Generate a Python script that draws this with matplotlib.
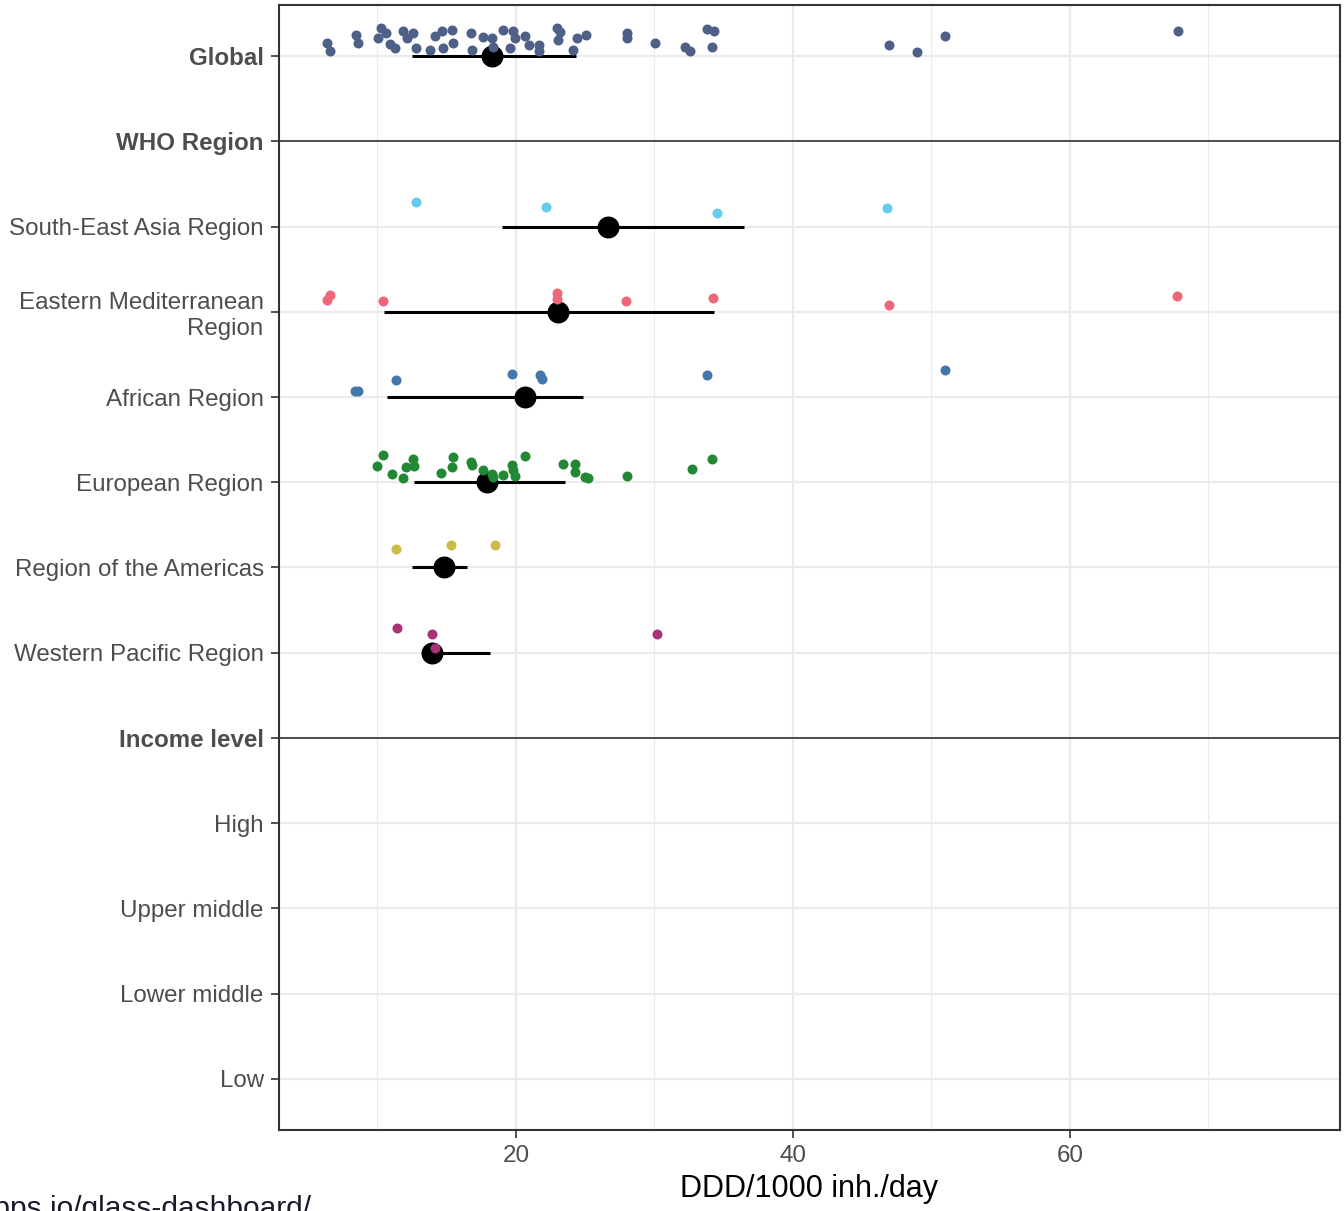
import matplotlib
matplotlib.use('Agg')
import matplotlib.pyplot as plt
import numpy as np

plt.rcParams['font.family'] = ['Liberation Sans', 'DejaVu Sans']

# ── categories (top to bottom) ────────────────────────────────────────────────
categories = ['Global', 'WHO Region', 'South-East Asia Region',
              'Eastern Mediterranean\nRegion', 'African Region', 'European Region',
              'Region of the Americas', 'Western Pacific Region', 'Income level',
              'High', 'Upper middle', 'Lower middle', 'Low']
headers = ['Global', 'WHO Region', 'Income level']
section_lines = ['WHO Region', 'Income level']

# ── per-country values (DDD/1000 inh./day) and vertical jitter
global_vals = [6.33, 6.57, 8.45, 8.61, 10.30, 10.06, 10.6, 10.9, 11.26, 11.86, 12.11, 12.58,
               12.78, 13.79, 14.15, 14.64, 15.36, 14.75, 15.47, 16.73, 16.80, 17.64,
               18.25, 18.36, 19.04, 19.81, 19.57, 19.93, 20.65, 20.96, 21.68, 21.68,
               22.94, 23.18, 23.05, 24.14, 24.38, 25.10, 27.99, 27.99, 30.04, 32.20,
               32.56, 33.79, 34.30, 34.19, 46.93, 48.95, 50.97, 67.80]
global_jit = [0.15, 0.06, 0.25, 0.15, 0.33, 0.21, 0.27, 0.14, 0.09, 0.29, 0.21, 0.27,
              0.09, 0.07, 0.24, 0.30, 0.31, 0.09, 0.15, 0.27, 0.07, 0.23,
              0.21, 0.11, 0.31, 0.29, 0.09, 0.21, 0.24, 0.13, 0.13, 0.06,
              0.33, 0.28, 0.19, 0.07, 0.21, 0.25, 0.27, 0.21, 0.15, 0.11,
              0.06, 0.32, 0.30, 0.11, 0.13, 0.05, 0.24, 0.29]

sea_vals = [12.78, 22.17, 34.51, 46.79]
sea_jit = [0.29, 0.235, 0.164, 0.223]

emr_vals = [6.57, 6.35, 10.40, 22.96, 22.96, 27.94, 34.22, 46.93, 67.73]
emr_jit = [0.20, 0.14, 0.13, 0.22, 0.15, 0.13, 0.16, 0.08, 0.18]

afr_vals = [8.38, 8.59, 11.34, 19.71, 21.73, 21.88, 33.79, 50.97]
afr_jit = [0.07, 0.07, 0.20, 0.27, 0.26, 0.21, 0.26, 0.32]

eur_vals = [10.42, 9.94, 11.03, 11.82, 12.06, 12.58, 12.64, 14.56, 15.36, 15.47,
            16.73, 16.80, 17.64, 18.25, 18.36, 19.04, 19.69, 19.81, 19.93, 20.65,
            23.37, 24.26, 24.26, 24.98, 25.22, 27.99, 32.69, 34.17]
eur_jit = [0.32, 0.19, 0.10, 0.055, 0.18, 0.27, 0.19, 0.11, 0.18, 0.30,
           0.24, 0.20, 0.14, 0.10, 0.06, 0.08, 0.20, 0.14, 0.07, 0.31,
           0.21, 0.21, 0.12, 0.06, 0.055, 0.07, 0.16, 0.27]

amr_vals = [11.34, 15.31, 18.48]
amr_jit = [0.22, 0.26, 0.26]

wpr_vals = [11.41, 13.94, 14.15, 30.18]
wpr_jit = [0.29, 0.22, 0.05, 0.22]

# mean and interval per group
group_names = ['Global', 'South-East Asia Region', 'Eastern Mediterranean\nRegion',
               'African Region', 'European Region', 'Region of the Americas',
               'Western Pacific Region']
group_vals = [global_vals, sea_vals, emr_vals, afr_vals, eur_vals, amr_vals, wpr_vals]
group_jit = [global_jit, sea_jit, emr_jit, afr_jit, eur_jit, amr_jit, wpr_jit]
group_colors = ['#4E6088', '#66CCEE', '#EE6677', '#4477AA', '#228833', '#CCBB44', '#AA3377']
group_mean = [18.27, 26.64, 23.03, 20.65, 17.91, 14.80, 13.94]
group_lo = [12.49, 18.99, 10.47, 10.69, 12.64, 12.49, 13.40]
group_hi = [24.33, 36.46, 34.30, 24.84, 23.54, 16.46, 18.12]

source_url = 'https://worldhealthorg.shinyapps.io/glass-dashboard/'

# ── plot ──────────────────────────────────────────────────────────────────────
fig = plt.figure(figsize=(13.44, 12.11), dpi=100)
ax = fig.add_axes([279 / 1344, 1 - 1130 / 1211, (1340 - 279) / 1344, (1130 - 5) / 1211])

n = len(categories)
ypos = {c: n - 1 - i for i, c in enumerate(categories)}

ax.set_xlim(2.9, 79.5)
ax.set_ylim(-0.6, n - 1 + 0.6)

ax.set_xticks([20, 40, 60])
ax.set_xticks([10, 30, 50, 70], minor=True)
ax.set_yticks([ypos[c] for c in categories])
ax.set_yticklabels(categories)
ax.grid(True, which='major', color='#EBEBEB', lw=1.6, zorder=0)
ax.grid(True, which='minor', axis='x', color='#EBEBEB', lw=0.8, zorder=0)
ax.set_axisbelow(True)

for c in section_lines:
    ax.axhline(ypos[c], color='#333333', lw=1.2, zorder=1)

for name, vals, jit, col, m, lo, hi in zip(group_names, group_vals, group_jit,
                                           group_colors, group_mean, group_lo, group_hi):
    y0 = ypos[name]
    ax.plot([lo, hi], [y0, y0], color='black', lw=2.2, solid_capstyle='butt', zorder=2)
    ax.scatter([m], [y0], s=250, color='black', zorder=3, linewidths=0)
    ax.scatter(vals, np.array(jit) + y0, s=52, color=col, zorder=4, linewidths=0)

for lab in ax.get_yticklabels():
    lab.set_fontsize(17.4)
    lab.set_color('#4D4D4D')
    lab.set_multialignment('right')
    if lab.get_text() in headers:
        lab.set_fontweight('bold')
for lab in ax.get_xticklabels():
    lab.set_fontsize(17.4)
    lab.set_color('#4D4D4D')

ax.tick_params(axis='both', which='major', length=6, width=1.2, color='#333333', pad=5)
ax.tick_params(axis='x', which='minor', length=0)
for s in ax.spines.values():
    s.set_color('#333333')
    s.set_linewidth(1.5)

ax.set_xlabel('DDD/1000 inh./day', fontsize=22, color='black', labelpad=5)

# source line, partly outside the canvas as in the original screenshot
fig.text(312 / 1344, 1 - 1195 / 1211, source_url,
         ha='right', va='top', fontsize=21.5, color='#1A1A2E')

fig.savefig('out.png', dpi=100)
